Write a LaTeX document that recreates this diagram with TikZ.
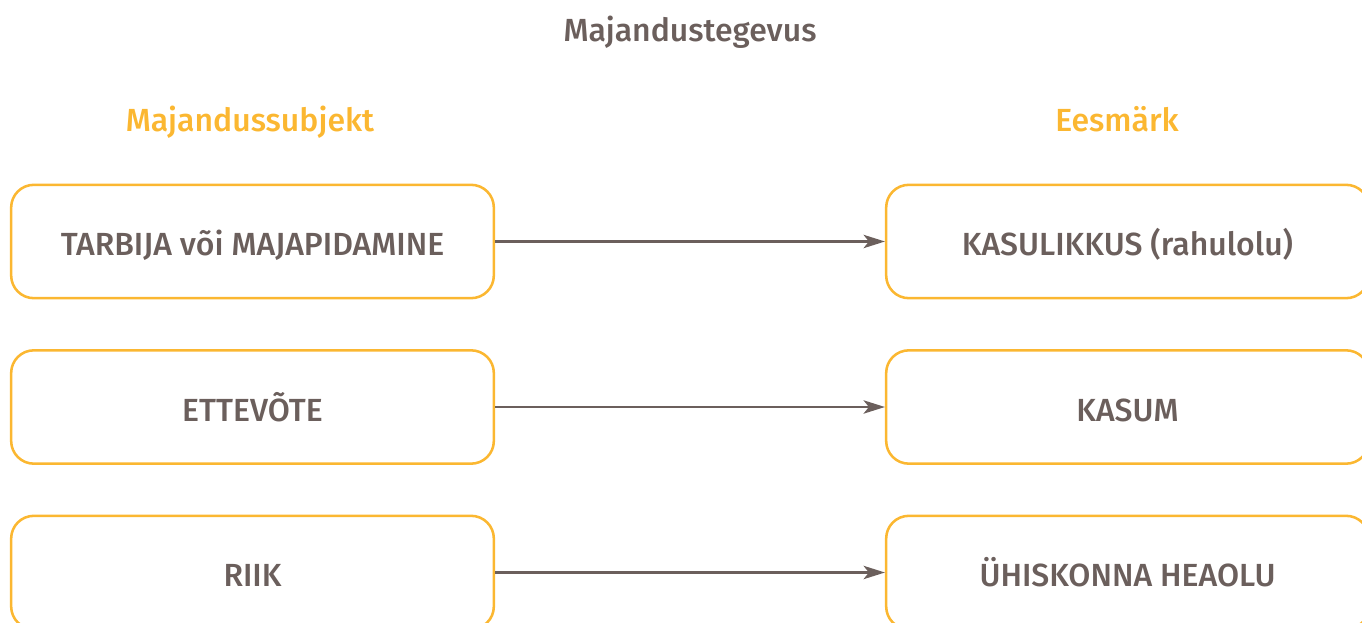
\documentclass[tikz,border=0pt]{standalone}
\usepackage{fontspec}
\setmainfont{Fira Sans}[UprightFont=* Medium, BoldFont=* SemiBold]
\usetikzlibrary{arrows.meta}
\definecolor{tekst}{HTML}{6B5F5C}
\definecolor{oranz}{HTML}{FBB731}

\begin{document}
\begin{tikzpicture}[x=0.75pt,y=0.75pt,yscale=-1,xscale=1,
  kast/.style={draw=oranz,line width=1.9pt,rounded corners=17pt,minimum width=362pt,minimum height=85pt,text=tekst,text height=21pt,text depth=0pt,font=\fontsize{24}{28}\selectfont},
  pealkiri/.style={inner sep=0.75pt,text height=17pt,text depth=0pt,font=\fontsize{24}{28}\selectfont},
  nool/.style={draw=tekst,line width=1.8pt,-{Stealth[length=16pt,width=10pt,inset=4pt]}}]
\useasboundingbox (0,0) rectangle (1362,623);
% Text Node
\draw (690,30) node [pealkiri,text=tekst] (pealkiri) {Majandustegevus};
% Text Node
\draw (250,120) node [pealkiri,text=oranz] (subjekt) {Majandussubjekt};
% Text Node
\draw (1117,120) node [pealkiri,text=oranz] (eesmark) {Eesmärk};
% left boxes
\draw (252.5,241.5) node [kast] (tarbija) {TARBIJA või MAJAPIDAMINE};
\draw (252.5,407) node [kast] (ettevote) {ETTEVÕTE};
\draw (252.5,572.5) node [kast] (riik) {RIIK};
% right boxes
\draw (1127.5,241.5) node [kast] (kasulikkus) {KASULIKKUS (rahulolu)};
\draw (1127.5,407) node [kast] (kasum) {KASUM};
\draw (1127.5,572.5) node [kast] (heaolu) {ÜHISKONNA HEAOLU};
\draw[nool]    (tarbija) -- (kasulikkus) ;
\draw[nool]    (ettevote) -- (kasum) ;
\draw[nool]    (riik) -- (heaolu) ;
\end{tikzpicture}
\end{document}
